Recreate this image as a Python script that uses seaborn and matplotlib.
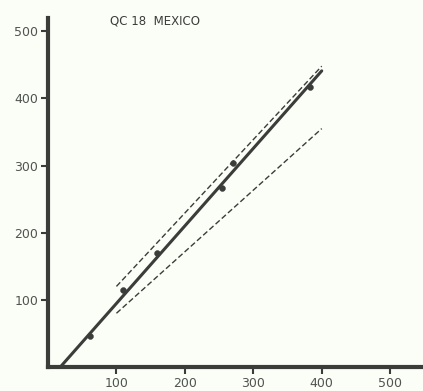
import matplotlib
matplotlib.use("Agg")
import matplotlib.pyplot as plt
import seaborn as sns
import pandas as pd

# Data
obs_x = [62, 110, 160, 254, 271, 383]
obs_y = [46, 115, 170, 266, 304, 417]

fit_x = [18, 400]
fit_y = [0, 441]

upper_x = [100, 400]
upper_y = [120, 448]

lower_x = [100, 400]
lower_y = [80, 355]

xticks = [100, 200, 300, 400, 500]
yticks = [100, 200, 300, 400, 500]
title = "QC 18  MEXICO"

sns.set_theme(style="white")
plt.rcParams['font.family'] = ['DejaVu Sans']

bg = "#fbfdf7"
ink = "#3a3d3a"
fig = plt.figure(figsize=(4.23, 3.91), dpi=100, facecolor=bg)
ax = fig.add_axes([0.1135, 0.0614, 0.8865, 0.893])
ax.set_facecolor(bg)

sns.lineplot(x=fit_x, y=fit_y, ax=ax, color=ink, lw=2.2)
sns.lineplot(x=upper_x, y=upper_y, ax=ax, color=ink, lw=1.0, linestyle=(0, (4, 2)))
sns.lineplot(x=lower_x, y=lower_y, ax=ax, color=ink, lw=1.0, linestyle=(0, (4, 2)))
sns.scatterplot(x=obs_x, y=obs_y, ax=ax, color=ink, s=18, marker="o", edgecolor=ink, zorder=5)

ax.set_xlim(0, 548)
ax.set_ylim(0, 520)
ax.set_xticks(xticks)
ax.set_yticks(yticks)
ax.set_xticklabels([str(t) for t in xticks])
ax.set_yticklabels([str(t) for t in yticks])

for s in ["top", "right"]:
    ax.spines[s].set_visible(False)
for s in ["left", "bottom"]:
    ax.spines[s].set_linewidth(3)
    ax.spines[s].set_color(ink)

ax.tick_params(axis="both", direction="out", length=5, width=1.5, color=ink,
               labelsize=9, labelcolor="#505450", pad=2)
ax.tick_params(axis="x", bottom=True)
ax.tick_params(axis="y", left=True)

ax.text(91, 516, title, fontsize=8.5, color=ink, ha="left", va="center")

ax.set_xlabel("")
ax.set_ylabel("")
fig.savefig("out.png", dpi=100, facecolor=bg)
